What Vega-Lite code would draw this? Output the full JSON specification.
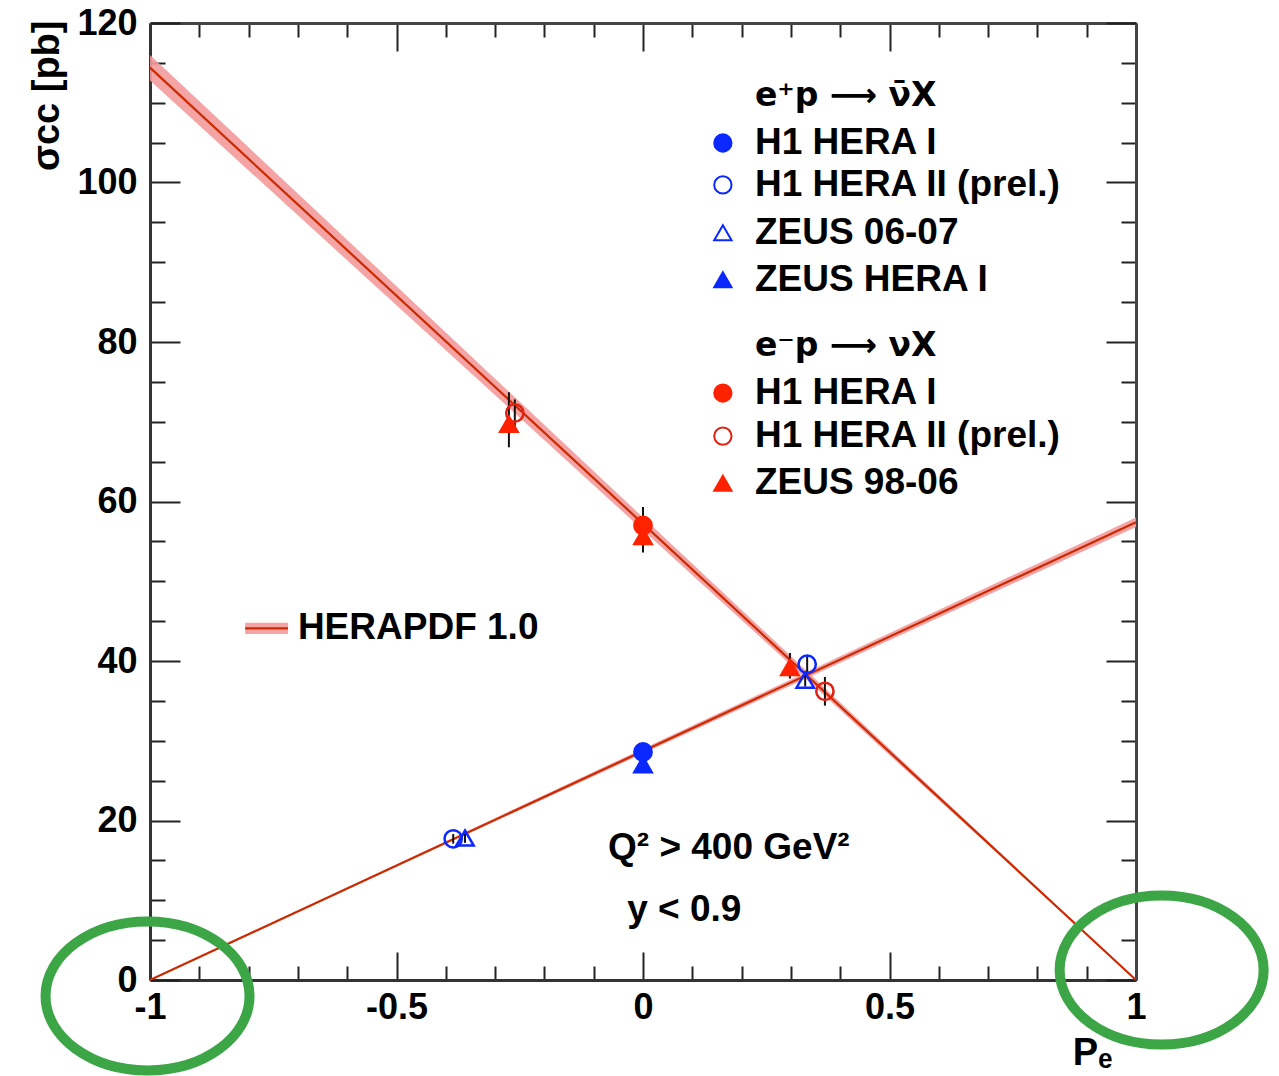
{
  "$schema": "https://vega.github.io/schema/vega-lite/v6.json",
  "width": 986,
  "height": 957,
  "autosize": {"type": "none"},
  "padding": {"left": 150, "top": 23, "right": 143, "bottom": 96},
  "background": "white",
  "config": {"view": {"stroke": null}, "font": "Liberation Sans"},
  "datasets": {
    "theory": [
      {"line": "e-p", "P": -1, "sigma": 114.4, "lo": 112.8, "hi": 116.0},
      {"line": "e-p", "P": 1, "sigma": 0, "lo": 0, "hi": 0},
      {"line": "e+p", "P": -1, "sigma": 0, "lo": 0, "hi": 0},
      {"line": "e+p", "P": 1, "sigma": 57.4, "lo": 56.8, "hi": 58.0},
      {"line": "key", "P": -0.807, "sigma": 44.1, "lo": 43.4, "hi": 44.8},
      {"line": "key", "P": -0.72, "sigma": 44.1, "lo": 43.4, "hi": 44.8}
    ],
    "points": [
      {"series": "e+p H1 HERA I", "P": 0.0, "sigma": 28.6, "lo": 27.8, "hi": 29.4},
      {"series": "e+p ZEUS HERA I", "P": 0.0, "sigma": 27.0, "lo": 26.2, "hi": 27.8},
      {"series": "e+p H1 HERA II (prel.)", "P": -0.385, "sigma": 17.7, "lo": 17.1, "hi": 18.3},
      {"series": "e+p H1 HERA II (prel.)", "P": 0.333, "sigma": 39.6, "lo": 38.6, "hi": 40.6},
      {"series": "e+p ZEUS 06-07", "P": -0.361, "sigma": 17.8, "lo": 17.2, "hi": 18.4},
      {"series": "e+p ZEUS 06-07", "P": 0.329, "sigma": 37.6, "lo": 36.8, "hi": 38.4},
      {"series": "e-p H1 HERA I", "P": 0.0, "sigma": 57.0, "lo": 54.8, "hi": 59.3},
      {"series": "e-p H1 HERA II (prel.)", "P": -0.26, "sigma": 71.1, "lo": 69.4, "hi": 72.8},
      {"series": "e-p H1 HERA II (prel.)", "P": 0.369, "sigma": 36.2, "lo": 34.4, "hi": 38.0},
      {"series": "e-p ZEUS 98-06", "P": -0.272, "sigma": 69.7, "lo": 66.8, "hi": 73.7},
      {"series": "e-p ZEUS 98-06", "P": 0.0, "sigma": 55.6, "lo": 53.6, "hi": 57.6},
      {"series": "e-p ZEUS 98-06", "P": 0.298, "sigma": 39.2, "lo": 37.8, "hi": 41.0}
    ],
    "keys": [
      {"series": "e+p H1 HERA I", "P": 0.162, "sigma": 104.95},
      {"series": "e+p H1 HERA II (prel.)", "P": 0.162, "sigma": 99.7},
      {"series": "e+p ZEUS 06-07", "P": 0.162, "sigma": 93.7},
      {"series": "e+p ZEUS HERA I", "P": 0.162, "sigma": 87.8},
      {"series": "e-p H1 HERA I", "P": 0.162, "sigma": 73.6},
      {"series": "e-p H1 HERA II (prel.)", "P": 0.162, "sigma": 68.2},
      {"series": "e-p ZEUS 98-06", "P": 0.162, "sigma": 62.3}
    ],
    "headers": [
      {"label": "e⁺p ⟶ ν̄X", "P": 0.227, "sigma": 110.85},
      {"label": "e⁻p ⟶ νX", "P": 0.227, "sigma": 79.5}
    ],
    "labels": [
      {"label": "H1 HERA I", "P": 0.227, "sigma": 104.95},
      {"label": "H1 HERA II (prel.)", "P": 0.227, "sigma": 99.7},
      {"label": "ZEUS 06-07", "P": 0.227, "sigma": 93.7},
      {"label": "ZEUS HERA I", "P": 0.227, "sigma": 87.8},
      {"label": "H1 HERA I", "P": 0.227, "sigma": 73.6},
      {"label": "H1 HERA II (prel.)", "P": 0.227, "sigma": 68.2},
      {"label": "ZEUS 98-06", "P": 0.227, "sigma": 62.3},
      {"label": "HERAPDF 1.0", "P": -0.7, "sigma": 44.1},
      {"label": "Q² > 400 GeV²", "P": -0.071, "sigma": 16.55},
      {"label": "y < 0.9", "P": -0.032, "sigma": 8.78}
    ],
    "circles": [
      {"P": -1.005, "sigma": -2.0},
      {"P": 1.052, "sigma": 1.25}
    ]
  },
  "resolve": {"axis": {"x": "independent", "y": "independent"}},
  "encoding": {
    "x": {"field": "P", "type": "quantitative", "scale": {"domain": [-1, 1], "nice": false, "zero": false}, "axis": null},
    "y": {"field": "sigma", "type": "quantitative", "scale": {"domain": [0, 120], "nice": false, "zero": false}, "axis": null}
  },
  "layer": [
    {
      "data": {"name": "theory"},
      "mark": {"type": "area", "color": "#f39a9a", "opacity": 0.9},
      "encoding": {
        "x": {"field": "P", "type": "quantitative", "scale": {"domain": [-1, 1], "nice": false, "zero": false},
          "axis": {
            "orient": "bottom",
            "values": [-1, -0.9, -0.8, -0.7, -0.6, -0.5, -0.4, -0.3, -0.2, -0.1, 0, 0.1, 0.2, 0.3, 0.4, 0.5, 0.6, 0.7, 0.8, 0.9, 1],
            "tickSize": {"condition": {"test": "abs(datum.value*2-round(datum.value*2))<0.001", "value": -28}, "value": -14},
            "tickColor": "#222", "tickWidth": 2,
            "labelExpr": "abs(datum.value*2-round(datum.value*2))<0.001 ? toString(round(datum.value*10)/10) : ''",
            "labelFontSize": 36, "labelFontWeight": "bold", "labelColor": "black", "labelPadding": 38,
            "labelOverlap": false, "labelFlush": false, "labelBound": false,
            "domainColor": "#333", "domainWidth": 3, "grid": false,
            "title": "Pₑ", "titleFontSize": 38, "titleFontWeight": "bold", "titleColor": "black",
            "titleAnchor": "end", "titleAlign": "right", "titleBaseline": "top", "titleX": 962, "titleY": 54
          }},
        "y": {"field": "lo", "type": "quantitative", "scale": {"domain": [0, 120], "nice": false, "zero": false},
          "axis": {
            "orient": "left",
            "values": [0, 5, 10, 15, 20, 25, 30, 35, 40, 45, 50, 55, 60, 65, 70, 75, 80, 85, 90, 95, 100, 105, 110, 115, 120],
            "tickSize": {"condition": {"test": "datum.value % 20 == 0", "value": -30}, "value": -15},
            "tickColor": "#222", "tickWidth": 2,
            "labelExpr": "datum.value % 20 == 0 ? toString(datum.value) : ''",
            "labelFontSize": 36, "labelFontWeight": "bold", "labelColor": "black", "labelPadding": 43,
            "labelOverlap": false, "labelFlush": false, "labelBound": false,
            "domainColor": "#333", "domainWidth": 3, "grid": false,
            "title": "σcc [pb]", "titleFontSize": 38, "titleFontWeight": "bold", "titleColor": "black",
            "titleAngle": -90, "titleAlign": "right", "titleBaseline": "middle", "titleX": -103, "titleY": -3
          }},
        "y2": {"field": "hi"},
        "detail": {"field": "line"}
      }
    },
    {
      "data": {"name": "theory"},
      "mark": {"type": "line", "color": "#cc2a00", "strokeWidth": 2.2},
      "encoding": {
        "x": {"field": "P", "type": "quantitative", "scale": {"domain": [-1, 1], "nice": false, "zero": false},
          "axis": {
            "orient": "top",
            "values": [-1, -0.9, -0.8, -0.7, -0.6, -0.5, -0.4, -0.3, -0.2, -0.1, 0, 0.1, 0.2, 0.3, 0.4, 0.5, 0.6, 0.7, 0.8, 0.9, 1],
            "tickSize": {"condition": {"test": "abs(datum.value*2-round(datum.value*2))<0.001", "value": -28}, "value": -14},
            "tickColor": "#222", "tickWidth": 2, "labels": false,
            "domainColor": "#444", "domainWidth": 3, "grid": false, "title": null
          }},
        "y": {"field": "sigma", "type": "quantitative", "scale": {"domain": [0, 120], "nice": false, "zero": false},
          "axis": {
            "orient": "right",
            "values": [0, 5, 10, 15, 20, 25, 30, 35, 40, 45, 50, 55, 60, 65, 70, 75, 80, 85, 90, 95, 100, 105, 110, 115, 120],
            "tickSize": {"condition": {"test": "datum.value % 20 == 0", "value": -30}, "value": -15},
            "tickColor": "#222", "tickWidth": 2, "labels": false,
            "domainColor": "#444", "domainWidth": 3, "grid": false, "title": null
          }},
        "detail": {"field": "line"}
      }
    },
    {
      "data": {"name": "points"},
      "mark": {"type": "rule", "color": "#111", "strokeWidth": 2},
      "encoding": {
        "y": {"field": "lo", "type": "quantitative", "scale": {"domain": [0, 120], "nice": false, "zero": false}, "axis": null},
        "y2": {"field": "hi"}
      }
    },
    {
      "data": {"name": "points"},
      "mark": {"type": "point", "size": 300, "strokeWidth": 2.5, "opacity": 1, "fillOpacity": 1},
      "encoding": {
        "shape": {"field": "series", "type": "nominal", "legend": null,
          "scale": {"domain": ["e+p H1 HERA I", "e+p H1 HERA II (prel.)", "e+p ZEUS 06-07", "e+p ZEUS HERA I", "e-p H1 HERA I", "e-p H1 HERA II (prel.)", "e-p ZEUS 98-06"],
            "range": ["circle", "circle", "triangle-up", "triangle-up", "circle", "circle", "triangle-up"]}},
        "fill": {"field": "series", "type": "nominal", "legend": null,
          "scale": {"domain": ["e+p H1 HERA I", "e+p H1 HERA II (prel.)", "e+p ZEUS 06-07", "e+p ZEUS HERA I", "e-p H1 HERA I", "e-p H1 HERA II (prel.)", "e-p ZEUS 98-06"],
            "range": ["#0a28ff", "transparent", "transparent", "#0a28ff", "#ff2200", "transparent", "#ff2200"]}},
        "stroke": {"field": "series", "type": "nominal", "legend": null,
          "scale": {"domain": ["e+p H1 HERA I", "e+p H1 HERA II (prel.)", "e+p ZEUS 06-07", "e+p ZEUS HERA I", "e-p H1 HERA I", "e-p H1 HERA II (prel.)", "e-p ZEUS 98-06"],
            "range": ["#0a28ff", "#0a28ff", "#0a28ff", "#0a28ff", "#ff2200", "#e02010", "#ff2200"]}}
      }
    },
    {
      "data": {"name": "keys"},
      "mark": {"type": "point", "size": 300, "strokeWidth": 2, "opacity": 1, "fillOpacity": 1},
      "encoding": {
        "shape": {"field": "series", "type": "nominal", "legend": null},
        "fill": {"field": "series", "type": "nominal", "legend": null},
        "stroke": {"field": "series", "type": "nominal", "legend": null}
      }
    },
    {
      "data": {"name": "labels"},
      "mark": {"type": "text", "align": "left", "baseline": "middle", "fontSize": 37, "fontWeight": "bold", "color": "black", "font": "Liberation Sans"},
      "encoding": {"text": {"field": "label"}}
    },
    {
      "data": {"name": "headers"},
      "mark": {"type": "text", "align": "left", "baseline": "middle", "fontSize": 33, "fontWeight": "bold", "color": "black", "font": "DejaVu Sans"},
      "encoding": {"text": {"field": "label"}}
    },
    {
      "data": {"name": "circles"},
      "mark": {"type": "point", "shape": "M-1,0A1,0.73,0,1,1,1,0A1,0.73,0,1,1,-1,0Z", "size": 41616, "filled": false, "stroke": "#3ca546", "strokeWidth": 10, "opacity": 1}
    }
  ]
}
